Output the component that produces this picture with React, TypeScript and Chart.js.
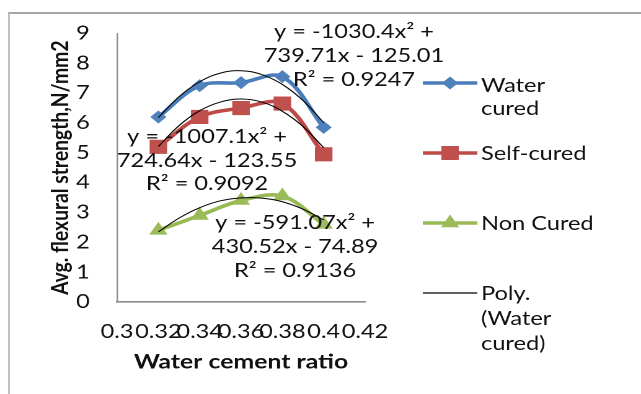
import React, { useEffect, useRef } from 'react';
import { Chart, registerables } from 'chart.js';

Chart.register(...registerables);

// ---- data ----
const xValues = [0.32, 0.34, 0.36, 0.38, 0.4];
const waterCured = [6.2, 7.25, 7.35, 7.55, 5.85];
const selfCured = [5.2, 6.2, 6.5, 6.65, 4.95];
const nonCured = [2.4, 2.9, 3.4, 3.55, 2.6];

// trendline values
const trendX = [0.32, 0.33, 0.34, 0.35, 0.36, 0.37, 0.38, 0.39, 0.4];
const waterTrend = [6.18, 6.88, 7.38, 7.67, 7.75, 7.62, 7.29, 6.75, 6.01];
const selfTrend = [5.21, 5.91, 6.41, 6.7, 6.8, 6.7, 6.39, 5.88, 5.17];
const nonTrend = [2.35, 2.81, 3.16, 3.39, 3.49, 3.48, 3.36, 3.11, 2.75];

const xTicks = [0.3, 0.32, 0.34, 0.36, 0.38, 0.4, 0.42];
const xTickLabels = ['0.3', '0.32', '0.34', '0.36', '0.38', '0.4', '0.42'];
const yMin = 0;
const yMax = 9;

const xTitle = 'Water cement ratio';
const yTitle = 'Avg. flexural strength,N/mm2';

const waterEq = ['y = -1030.4x\u00b2 +', '739.71x - 125.01', 'R\u00b2 = 0.9247'];
const selfEq = ['y = -1007.1x\u00b2 +', '724.64x - 123.55', 'R\u00b2 = 0.9092'];
const nonEq = ['y = -591.07x\u00b2 +', '430.52x - 74.89', 'R\u00b2 = 0.9136'];

const legendWater = ['Water', 'cured'];
const legendSelf = ['Self-cured'];
const legendNon = ['Non Cured'];
const legendPoly = ['Poly.', '(Water', 'cured)'];

// ---- styling ----
const BLUE_LINE = '#4A7EBB';
const BLUE = '#4F81BD';
const RED_LINE = '#BE4B48';
const RED = '#C0504D';
const GREEN_LINE = '#98B954';
const GREEN = '#9BBB59';
const TEXT = '#111111';
const FONT = 'Lato';
const REG = 19;
const BOLD = 20;

const STRETCH = 641 / 517;
const W = 517;
const H = 394;

function drawMarker(ctx: CanvasRenderingContext2D, kind: string, x: number, y: number, color: string) {
  ctx.save();
  ctx.fillStyle = color;
  ctx.beginPath();
  if (kind === 'diamond') {
    const r = 6.5;
    ctx.moveTo(x, y - r);
    ctx.lineTo(x + r, y);
    ctx.lineTo(x, y + r);
    ctx.lineTo(x - r, y);
    ctx.closePath();
  } else if (kind === 'square') {
    const s = 7;
    ctx.rect(x - s, y - s, 2 * s, 2 * s);
  } else if (kind === 'triangle') {
    const r = 8.5;
    for (let i = 0; i < 3; i++) {
      const a = (i * 2 * Math.PI) / 3;
      const px = x + Math.sin(a) * r;
      const py = y - Math.cos(a) * r;
      if (i === 0) ctx.moveTo(px, py);
      else ctx.lineTo(px, py);
    }
    ctx.closePath();
  }
  ctx.fill();
  ctx.restore();
}

const annotPlugin = {
  id: 'annot',
  afterDatasetsDraw(chart: any) {
    const ctx: CanvasRenderingContext2D = chart.ctx;
    ctx.save();
    ctx.font = `${REG}px ${FONT}`;
    ctx.fillStyle = TEXT;
    ctx.textAlign = 'center';
    ctx.textBaseline = 'alphabetic';
    const blocks: [string[], number, number[]][] = [
      [waterEq, 285.5, [38, 62, 86]],
      [selfEq, 167, [143, 167, 190]],
      [nonEq, 238, [229, 253, 277]],
    ];
    for (const [lines, cx, ys] of blocks) {
      lines.forEach((t, i) => ctx.fillText(t, cx, ys[i]));
    }
    ctx.restore();
  },
  afterDraw(chart: any) {
    const ctx: CanvasRenderingContext2D = chart.ctx;
    const lx1 = 341;
    const lx2 = 385;
    const mx = 363;
    const tx = 388;
    const items: { y: number; line: string; marker: string; mcolor: string; lw: number; text: string[]; bases: number[] }[] = [
      { y: 83, line: BLUE_LINE, marker: 'diamond', mcolor: BLUE, lw: 3.4, text: legendWater, bases: [92, 115] },
      { y: 153, line: RED_LINE, marker: 'square', mcolor: RED, lw: 3.4, text: legendSelf, bases: [160] },
      { y: 223, line: GREEN_LINE, marker: 'triangle', mcolor: GREEN, lw: 3.4, text: legendNon, bases: [230] },
      { y: 293, line: '#000000', marker: 'none', mcolor: '#000', lw: 1.2, text: legendPoly, bases: [300, 325, 350] },
    ];
    ctx.save();
    for (const it of items) {
      ctx.strokeStyle = it.line;
      ctx.lineWidth = it.lw;
      ctx.beginPath();
      ctx.moveTo(lx1, it.y);
      ctx.lineTo(lx2, it.y);
      ctx.stroke();
      drawMarker(ctx, it.marker, mx, it.y, it.mcolor);
      ctx.font = `${REG}px ${FONT}`;
      ctx.fillStyle = TEXT;
      ctx.textAlign = 'left';
      ctx.textBaseline = 'alphabetic';
      it.text.forEach((t, i) => ctx.fillText(t, tx, it.bases[i]));
    }
    ctx.restore();
  },
};

const pts = (xs: number[], ys: number[]) => xs.map((x, i) => ({ x, y: ys[i] }));

export default function App() {
  const ref = useRef<HTMLCanvasElement>(null);

  useEffect(() => {
    const canvas = ref.current;
    if (!canvas) return;
    const trend = (label: string, ys: number[]) => ({
      label,
      data: pts(trendX, ys),
      showLine: true,
      borderColor: '#000000',
      borderWidth: 1,
      pointRadius: 0,
      tension: 0.4,
      order: 0,
    });
    const series = (label: string, ys: number[], line: string, fill: string, style: string, radius: number) => ({
      label,
      data: pts(xValues, ys),
      showLine: true,
      borderColor: line,
      borderWidth: 3.6,
      pointStyle: style,
      pointRadius: radius,
      pointBackgroundColor: fill,
      pointBorderColor: fill,
      pointBorderWidth: 0,
      tension: 0.35,
      order: 1,
    });
    const chart = new Chart(canvas, {
      type: 'scatter',
      data: {
        datasets: [
          trend('Poly. (Water cured)', waterTrend),
          trend('Poly. (Self-cured)', selfTrend),
          trend('Poly. (Non Cured)', nonTrend),
          series('Water cured', waterCured, BLUE_LINE, BLUE, 'rectRot', 6.5),
          series('Self-cured', selfCured, RED_LINE, RED, 'rect', 10),
          series('Non Cured', nonCured, GREEN_LINE, GREEN, 'triangle', 8.5),
        ] as any,
      },
      options: {
        animation: false,
        responsive: false,
        devicePixelRatio: 2,
        layout: { padding: { left: 0, top: 33, right: W - 294.4, bottom: 0 } },
        plugins: { legend: { display: false }, tooltip: { enabled: false } },
        scales: {
          x: {
            type: 'linear',
            min: xTicks[0],
            max: xTicks[xTicks.length - 1],
            afterBuildTicks: (s: any) => {
              s.ticks = xTicks.map((v) => ({ value: v }));
            },
            afterFit: (s: any) => {
              s.height = H - 302;
            },
            grid: { display: false, drawTicks: false },
            border: { display: true, color: '#8c8c8c', width: 1.6 },
            ticks: {
              autoSkip: false,
              maxRotation: 0,
              minRotation: 0,
              padding: 18.6,
              color: TEXT,
              font: { family: FONT, size: REG },
              callback: (_v: any, i: number) => xTickLabels[i],
            },
            title: {
              display: true,
              text: xTitle,
              color: TEXT,
              font: { family: FONT, size: BOLD, weight: 'bold' },
              padding: { top: 0, bottom: 20 },
            },
          },
          y: {
            min: yMin,
            max: yMax,
            afterFit: (s: any) => {
              s.width = 94.4;
            },
            grid: { display: false, drawTicks: false },
            border: { display: true, color: '#8c8c8c', width: 1.2 },
            ticks: {
              stepSize: 1,
              padding: 22,
              color: TEXT,
              font: { family: FONT, size: REG },
            },
            title: {
              display: true,
              text: yTitle,
              color: TEXT,
              font: { family: FONT, size: 19.3, weight: 'bold' },
              padding: { top: 37, bottom: 0 },
            },
          },
        },
      } as any,
      plugins: [annotPlugin],
    });
    return () => chart.destroy();
  }, []);

  return (
    <div style={{ position: 'fixed', left: 0, top: 0, width: 641, height: 394, background: '#ffffff', overflow: 'hidden' }}>
      <div style={{ position: 'absolute', left: 8, top: 12, right: 0, bottom: 0, borderTop: '2px solid #a6a6a6', borderLeft: '2px solid #bfbfbf' }} />
      <div style={{ position: 'absolute', left: 0, top: 0, width: W, height: H, transform: `scaleX(${STRETCH})`, transformOrigin: '0 0' }}>
        <canvas ref={ref} width={W} height={H} style={{ width: W, height: H, display: 'block' }} />
      </div>
    </div>
  );
}
